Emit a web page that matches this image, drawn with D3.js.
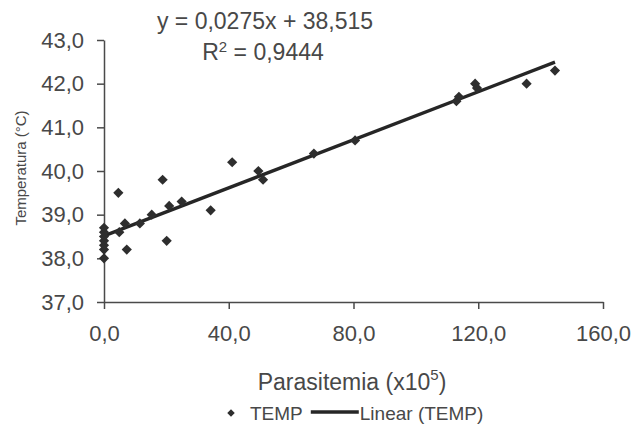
<!DOCTYPE html>
<html>
<head>
<meta charset="utf-8">
<script src="https://cdn.jsdelivr.net/npm/d3@7/dist/d3.min.js"></script>
<style>
  html, body { margin: 0; padding: 0; background: #fff; }
  svg { display: block; font-family: "Liberation Sans", Arial, sans-serif; }
</style>
</head>
<body>
<svg id="chart" width="642" height="425"></svg>
<script>
// Parasitemia (x10^5) and temperature (°C) per sample
const parasitemia = [0, 0, 0, 0, 0, 0, 0,
  4.6, 4.9, 6.7, 7.3, 11.5, 15.3, 18.8, 20.1, 20.9, 24.9, 34.2, 41.1,
  49.5, 51.0, 67.3, 80.5, 113.0, 113.8, 119.0, 119.6, 135.5, 144.6];
const temperature = [38.0, 38.2, 38.3, 38.4, 38.5, 38.6, 38.7,
  39.5, 38.6, 38.8, 38.2, 38.8, 39.0, 39.8, 38.4, 39.2, 39.3, 39.1, 40.2,
  40.0, 39.8, 40.4, 40.7, 41.6, 41.7, 42.0, 41.9, 42.0, 42.3];

// Linear trend line: y = slope * x + intercept
const slope = 0.0275;
const intercept = 38.515;
const rSquared = 0.9444;

const xTicks = [0, 40, 80, 120, 160];
const yTicks = [37, 38, 39, 40, 41, 42, 43];

const svg = d3.select("#chart");
const textColor = "#484848";

const locale = d3.formatLocale({ decimal: ",", thousands: ".", grouping: [3], currency: ["", ""] });
const fmt1 = locale.format(".1f");

const x = d3.scaleLinear().domain([0, 160]).range([104, 603]);
const y = d3.scaleLinear().domain([37, 43]).range([302, 40]);

// Y axis
const yAxis = svg.append("g")
  .attr("transform", `translate(${x(0)},0)`)
  .call(d3.axisLeft(y).tickValues(yTicks).tickFormat(fmt1).tickSize(7).tickPadding(13).tickSizeOuter(0));
// X axis
const xAxis = svg.append("g")
  .attr("transform", `translate(0,${y(37)})`)
  .call(d3.axisBottom(x).tickValues(xTicks).tickFormat(fmt1).tickSize(7).tickPadding(16).tickSizeOuter(0));

[yAxis, xAxis].forEach(g => {
  g.select(".domain").attr("stroke", "#4a4a4a").attr("stroke-width", 1.5);
  g.selectAll(".tick line").attr("stroke", "#4a4a4a").attr("stroke-width", 1.5);
  g.selectAll(".tick text")
    .attr("fill", textColor)
    .style("font-family", "'Liberation Sans', Arial, sans-serif")
    .style("font-size", "22px");
});

// Trend line over the observed range
const xMax = d3.max(parasitemia);
const trend = [0, xMax].map(v => [v, slope * v + intercept]);
svg.append("path")
  .datum(trend)
  .attr("fill", "none")
  .attr("stroke", "#262626")
  .attr("stroke-width", 3.4)
  .attr("d", d3.line().x(d => x(d[0])).y(d => y(d[1])));

// Data points as diamonds
const diamond = d3.symbol(d3.symbolSquare, 52);
svg.append("g")
  .selectAll("path")
  .data(parasitemia.map((v, i) => [v, temperature[i]]))
  .join("path")
  .attr("d", diamond)
  .attr("fill", "#2e2e2e")
  .attr("transform", d => `translate(${x(d[0])},${y(d[1])}) rotate(45)`);

// Regression equation
const eq = svg.append("g").attr("fill", textColor).style("font-size", "23px");
eq.append("text")
  .attr("x", 265).attr("y", 29)
  .attr("text-anchor", "middle")
  .text(`y = ${locale.format(".4f")(slope)}x + ${locale.format(".3f")(intercept)}`);
const r2 = eq.append("text")
  .attr("x", 263).attr("y", 60)
  .attr("text-anchor", "middle");
r2.append("tspan").text("R");
r2.append("tspan").attr("dy", -8).style("font-size", "15px").text("2");
r2.append("tspan").attr("dy", 8).text(` = ${locale.format(".4f")(rSquared)}`);

// Axis titles
const xt = svg.append("text")
  .attr("x", 352).attr("y", 390)
  .attr("text-anchor", "middle")
  .attr("fill", textColor)
  .style("font-size", "23px");
xt.append("tspan").text("Parasitemia (x10");
xt.append("tspan").attr("dy", -10).style("font-size", "15px").text("5");
xt.append("tspan").attr("dy", 10).text(")");

svg.append("text")
  .attr("transform", "translate(26,168) rotate(-90)")
  .attr("text-anchor", "middle")
  .attr("fill", textColor)
  .style("font-size", "15px")
  .text("Temperatura (°C)");

// Legend: marker, label, line sample, label
const legend = svg.append("g").attr("fill", textColor).style("font-size", "19px");
legend.append("path")
  .attr("d", d3.symbol(d3.symbolSquare, 28))
  .attr("fill", "#2e2e2e")
  .attr("transform", "translate(231,413) rotate(45)");
const tempLabel = legend.append("text").attr("x", 250).attr("y", 420).text("TEMP");
const lineStart = 250 + tempLabel.node().getComputedTextLength() + 8;
legend.append("line")
  .attr("x1", lineStart).attr("x2", lineStart + 48).attr("y1", 412).attr("y2", 412)
  .attr("stroke", "#262626").attr("stroke-width", 3.4);
legend.append("text").attr("x", lineStart + 49).attr("y", 420).text("Linear (TEMP)");
</script>
</body>
</html>
